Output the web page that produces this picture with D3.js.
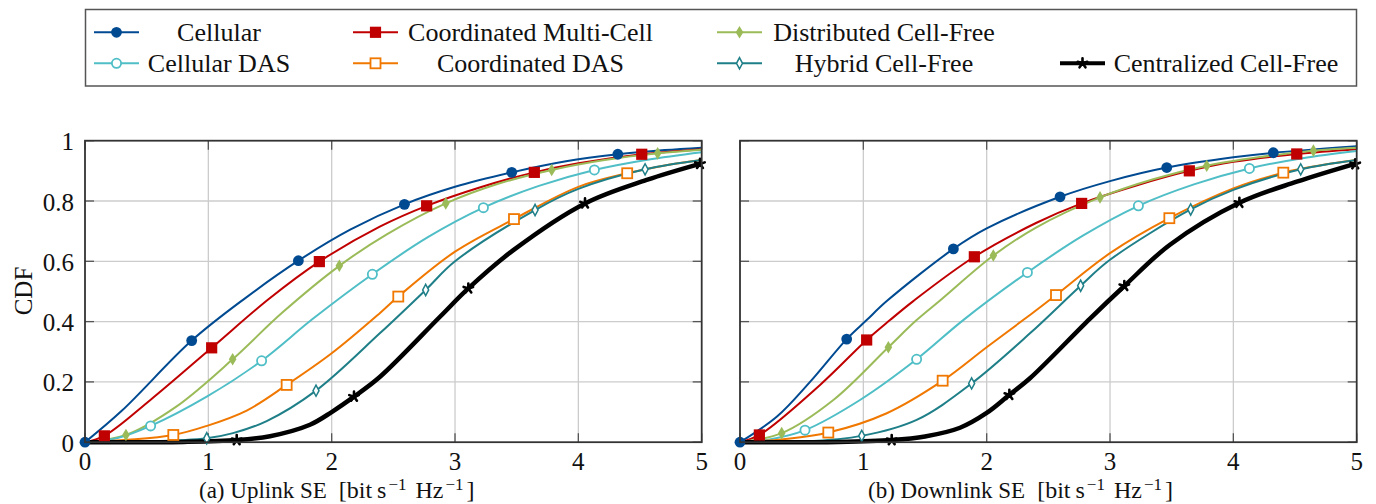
<!DOCTYPE html>
<html><head><meta charset="utf-8">
<script src="https://cdn.jsdelivr.net/npm/d3@7"></script>
<style>body{margin:0;background:#fff}svg{display:block}</style>
</head><body><svg id="c" width="1376" height="504"></svg>
<script>
// ---------- data ----------
const seriesNames = ["Cellular","Coordinated Multi-Cell","Distributed Cell-Free","Cellular DAS","Coordinated DAS","Hybrid Cell-Free","Centralized Cell-Free"];
const xTicks = [0,1,2,3,4,5];
const xTickLabels = ["0","1","2","3","4","5"];
const yTicks = [0,0.2,0.4,0.6,0.8,1];
const yTickLabels = ["0","0.2","0.4","0.6","0.8","1"];
const captions = ["(a) Uplink SE", "(b) Downlink SE"];

// Uplink curves
const ulCellular = [[0,0],[0.3,0.105],[0.865,0.337],[1.3,0.478],[1.73,0.602],[2.15,0.705],[2.59,0.789],[3.0,0.847],[3.46,0.895],[3.9,0.932],[4.32,0.955],[4.7,0.969],[5,0.977]];
const ulCellularMarks = [[0,0],[0.865,0.337],[1.73,0.602],[2.59,0.789],[3.46,0.895],[4.32,0.955]];
const ulCoordMC = [[0,0],[0.157,0.021],[0.53,0.14],[1.027,0.313],[1.49,0.475],[1.9,0.599],[2.39,0.715],[2.77,0.784],[3.2,0.845],[3.643,0.895],[4.0,0.925],[4.514,0.955],[5,0.972]];
const ulCoordMCMarks = [[0.157,0.021],[1.027,0.313],[1.9,0.599],[2.77,0.784],[3.643,0.895],[4.514,0.955]];
const ulDistCF = [[0,0],[0.332,0.024],[0.74,0.118],[1.197,0.275],[1.6,0.43],[2.062,0.585],[2.45,0.69],[2.925,0.792],[3.35,0.857],[3.784,0.903],[4.2,0.935],[4.643,0.958],[5,0.970]];
const ulDistCFMarks = [[0.332,0.024],[1.197,0.275],[2.062,0.585],[2.925,0.792],[3.784,0.903],[4.643,0.958]];
const ulCellDAS = [[0,0],[0.257,0.013],[0.532,0.054],[0.987,0.151],[1.432,0.27],[1.85,0.41],[2.33,0.557],[2.78,0.68],[3.23,0.778],[3.68,0.85],[4.13,0.903],[4.56,0.937],[5,0.962]];
const ulCellDASMarks = [[0.532,0.054],[1.432,0.27],[2.33,0.557],[3.23,0.778],[4.13,0.903]];
const ulCoordDAS = [[0,0],[0.35,0.008],[0.716,0.024],[0.987,0.054],[1.311,0.105],[1.635,0.19],[2.0,0.295],[2.39,0.428],[2.54,0.483],[3.0,0.632],[3.478,0.74],[4.0,0.847],[4.396,0.892],[4.7,0.918],[5,0.936]];
const ulCoordDASMarks = [[0.716,0.024],[1.635,0.19],[2.54,0.483],[3.478,0.74],[4.396,0.892]];
const ulHybridCF = [[0,0],[0.5,0.002],[0.987,0.013],[1.2,0.03],[1.473,0.07],[1.873,0.171],[2.39,0.361],[2.762,0.505],[3.0,0.6],[3.649,0.77],[4.0,0.84],[4.541,0.905],[5,0.936]];
const ulHybridCFMarks = [[0.987,0.013],[1.873,0.171],[2.762,0.505],[3.649,0.77],[4.541,0.905]];
const ulCentralCF = [[0,0],[0.8,0.001],[1.23,0.007],[1.5,0.02],[1.824,0.058],[2.0,0.1],[2.181,0.151],[2.392,0.217],[2.878,0.416],[3.108,0.51],[3.473,0.637],[4.054,0.792],[4.554,0.87],[5,0.925]];
const ulCentralCFMarks = [[1.23,0.007],[2.181,0.151],[3.108,0.51],[4.054,0.792],[4.986,0.923]];

// Downlink curves
const dlCellular = [[0,0],[0.3,0.085],[0.568,0.2],[0.865,0.342],[1.027,0.405],[1.19,0.468],[1.73,0.641],[2.0,0.709],[2.595,0.814],[3.0,0.866],[3.46,0.911],[4.0,0.945],[4.324,0.96],[5,0.982]];
const dlCellularMarks = [[0,0],[0.865,0.342],[1.73,0.641],[2.595,0.814],[3.46,0.911],[4.324,0.96]];
const dlCoordMC = [[0,0],[0.157,0.024],[0.649,0.19],[1.027,0.339],[1.216,0.405],[1.405,0.468],[1.9,0.615],[2.4,0.727],[2.77,0.792],[3.2,0.85],[3.643,0.9],[4.0,0.93],[4.514,0.956],[5,0.972]];
const dlCoordMCMarks = [[0.157,0.024],[1.027,0.339],[1.9,0.615],[2.77,0.792],[3.643,0.9],[4.514,0.956]];
const dlDistCF = [[0,0],[0.338,0.03],[0.757,0.14],[1.203,0.315],[1.432,0.405],[1.622,0.47],[2.054,0.619],[2.4,0.712],[2.919,0.812],[3.35,0.872],[3.784,0.917],[4.2,0.945],[4.649,0.967],[5,0.977]];
const dlDistCFMarks = [[0.338,0.03],[1.203,0.315],[2.054,0.619],[2.919,0.812],[3.784,0.917],[4.649,0.967]];
const dlCellDAS = [[0,0],[0.25,0.01],[0.527,0.04],[0.973,0.14],[1.432,0.275],[1.81,0.405],[2.33,0.563],[2.78,0.685],[3.23,0.784],[3.68,0.855],[4.13,0.908],[4.56,0.942],[5,0.966]];
const dlCellDASMarks = [[0.527,0.04],[1.432,0.275],[2.33,0.563],[3.23,0.784],[4.13,0.908]];
const dlCoordDAS = [[0,0],[0.35,0.01],[0.716,0.032],[1.19,0.096],[1.643,0.204],[2.0,0.315],[2.351,0.422],[2.562,0.488],[3.0,0.627],[3.481,0.743],[4.0,0.842],[4.405,0.894],[4.7,0.918],[5,0.936]];
const dlCoordDASMarks = [[0.716,0.032],[1.643,0.204],[2.562,0.488],[3.481,0.743],[4.405,0.894]];
const dlHybridCF = [[0,0],[0.5,0.002],[0.987,0.021],[1.432,0.074],[1.878,0.195],[2.351,0.361],[2.762,0.519],[3.0,0.605],[3.654,0.772],[4.0,0.837],[4.546,0.905],[5,0.936]];
const dlHybridCFMarks = [[0.987,0.021],[1.878,0.195],[2.762,0.519],[3.654,0.772],[4.546,0.905]];
const dlCentralCF = [[0,0],[0.8,0.001],[1.23,0.007],[1.5,0.019],[1.784,0.048],[2.0,0.097],[2.184,0.157],[2.351,0.212],[2.838,0.41],[3.116,0.518],[3.486,0.655],[4.049,0.794],[4.514,0.864],[5,0.925]];
const dlCentralCFMarks = [[1.23,0.007],[2.184,0.157],[3.116,0.518],[4.049,0.794],[4.988,0.922]];

// ---------- styles ----------
const colors = ["#004a91","#c00000","#9bbb59","#4fbec6","#f07800","#1f7f88","#000000"];
const markerTypes = ["circleFilled","squareFilled","diamondFilled","circleOpen","squareOpen","diamondOpen","star"];
const lineWidths = [2,2,2,2,2,2,4.5];

const panels = [
  {x0:85, x1:701.7, curves:[ulCellular,ulCoordMC,ulDistCF,ulCellDAS,ulCoordDAS,ulHybridCF,ulCentralCF],
   marks:[ulCellularMarks,ulCoordMCMarks,ulDistCFMarks,ulCellDASMarks,ulCoordDASMarks,ulHybridCFMarks,ulCentralCFMarks],
   yLabels:true, capX:199},
  {x0:740, x1:1356.7, curves:[dlCellular,dlCoordMC,dlDistCF,dlCellDAS,dlCoordDAS,dlHybridCF,dlCentralCF],
   marks:[dlCellularMarks,dlCoordMCMarks,dlDistCFMarks,dlCellDASMarks,dlCoordDASMarks,dlHybridCFMarks,dlCentralCFMarks],
   yLabels:false, capX:868}
];
const yTop = 140.7, yBot = 442.2;
const FONT = "'Liberation Serif','Times New Roman',serif";

const svg = d3.select("#c");

function drawMarker(g, type, color, x, y) {
  if (type === "circleFilled") {
    g.append("circle").attr("cx",x).attr("cy",y).attr("r",5.4).attr("fill",color);
  } else if (type === "circleOpen") {
    g.append("circle").attr("cx",x).attr("cy",y).attr("r",4.6).attr("fill","#fff").attr("stroke",color).attr("stroke-width",1.8);
  } else if (type === "squareFilled") {
    g.append("rect").attr("x",x-5.6).attr("y",y-5.6).attr("width",11.2).attr("height",11.2).attr("fill",color);
  } else if (type === "squareOpen") {
    g.append("rect").attr("x",x-5).attr("y",y-5).attr("width",10).attr("height",10).attr("fill","#fff").attr("stroke",color).attr("stroke-width",1.8);
  } else if (type === "diamondFilled") {
    g.append("path").attr("d",`M${x},${y-6.3}L${x+3.8},${y}L${x},${y+6.3}L${x-3.8},${y}Z`).attr("fill",color);
  } else if (type === "diamondOpen") {
    g.append("path").attr("d",`M${x},${y-5.6}L${x+3},${y}L${x},${y+5.6}L${x-3},${y}Z`).attr("fill","#fff").attr("stroke",color).attr("stroke-width",1.5);
  } else if (type === "star") {
    let d = "";
    for (let k = 0; k < 5; k++) {
      const a = -Math.PI/2 + k*2*Math.PI/5;
      d += `M${x},${y}L${x+5*Math.cos(a)},${y+5*Math.sin(a)}`;
    }
    g.append("path").attr("d",d).attr("stroke",color).attr("stroke-width",2.6).attr("stroke-linecap","round").attr("fill","none");
  }
}

panels.forEach((p, pi) => {
  const x = d3.scaleLinear().domain([0,5]).range([p.x0, p.x1]);
  const y = d3.scaleLinear().domain([0,1]).range([yBot, yTop]);
  const g = svg.append("g");

  // grid
  g.append("g").selectAll("line").data(xTicks.slice(1,-1)).join("line")
    .attr("x1",d=>x(d)).attr("x2",d=>x(d)).attr("y1",yTop).attr("y2",yBot)
    .attr("stroke","#cccccc").attr("stroke-width",1.3);
  g.append("g").selectAll("line").data(yTicks.slice(1,-1)).join("line")
    .attr("y1",d=>y(d)).attr("y2",d=>y(d)).attr("x1",p.x0).attr("x2",p.x1)
    .attr("stroke","#cccccc").attr("stroke-width",1.3);

  // ticks (inside, all sides)
  const tl = 9;
  const tk = g.append("g").attr("stroke","#555").attr("stroke-width",1.3);
  xTicks.forEach(t => {
    tk.append("line").attr("x1",x(t)).attr("x2",x(t)).attr("y1",yBot).attr("y2",yBot-tl);
    tk.append("line").attr("x1",x(t)).attr("x2",x(t)).attr("y1",yTop).attr("y2",yTop+tl);
  });
  yTicks.forEach(t => {
    tk.append("line").attr("y1",y(t)).attr("y2",y(t)).attr("x1",p.x0).attr("x2",p.x0+tl);
    tk.append("line").attr("y1",y(t)).attr("y2",y(t)).attr("x1",p.x1).attr("x2",p.x1-tl);
  });

  // curves
  const line = d3.line().x(d=>x(d[0])).y(d=>y(d[1])).curve(d3.curveCatmullRom.alpha(0.5));
  p.curves.forEach((c, i) => {
    g.append("path").datum(c).attr("d",line).attr("fill","none")
      .attr("stroke",colors[i]).attr("stroke-width",lineWidths[i]).attr("stroke-linejoin","round");
  });
  // markers
  p.marks.forEach((m, i) => {
    const mg = g.append("g");
    m.forEach(d => drawMarker(mg, markerTypes[i], colors[i], x(d[0]), y(d[1])));
  });

  // frame
  g.append("rect").attr("x",p.x0).attr("y",yTop).attr("width",p.x1-p.x0).attr("height",yBot-yTop)
    .attr("fill","none").attr("stroke","#333").attr("stroke-width",1.8);

  // tick labels
  g.append("g").selectAll("text").data(xTicks).join("text")
    .attr("x",d=>x(d)).attr("y",470).attr("text-anchor","middle")
    .attr("font-family",FONT).attr("font-size",25).attr("fill","#111")
    .text((d,i)=>xTickLabels[i]);
  if (p.yLabels) {
    g.append("g").selectAll("text").data(yTicks).join("text")
      .attr("x",74).attr("y",d=>y(d)+9.5).attr("text-anchor","end")
      .attr("font-family",FONT).attr("font-size",25).attr("fill","#111")
      .text((d,i)=>yTickLabels[i]);
  }

  // caption
  const cap = g.append("text").attr("x",p.capX).attr("y",498)
    .attr("font-family",FONT).attr("font-size",23).attr("fill","#111");
  cap.append("tspan").text(captions[pi]);
  cap.append("tspan").attr("dx",12).attr("font-size",24).text("[bit");
  cap.append("tspan").attr("dx",5).attr("font-size",24).text("s");
  cap.append("tspan").attr("dy",-8).attr("dx",2).attr("font-size",17).text("\u22121");
  cap.append("tspan").attr("dy",8).attr("dx",9).attr("font-size",24).text("Hz");
  cap.append("tspan").attr("dy",-8).attr("dx",2).attr("font-size",17).text("\u22121");
  cap.append("tspan").attr("dy",8).attr("dx",3).attr("font-size",24).text("]");
});

// y axis title
svg.append("text").attr("transform","translate(31.5,291) rotate(-90)")
  .attr("text-anchor","middle").attr("font-family",FONT).attr("font-size",25).attr("fill","#111")
  .text("CDF");

// legend
const lg = svg.append("g");
lg.append("rect").attr("x",85.5).attr("y",9.5).attr("width",1271).attr("height",76.5)
  .attr("fill","#fff").attr("stroke","#555").attr("stroke-width",1.5);
const legCols = [{lx:94, tx:219},{lx:353, tx:530.5},{lx:717, tx:884},{lx:1060, tx:1226}];
const legRows = [32.3, 63.3];
const legendSlots = [[0,0],[0,1],[0,2],[1,0],[1,1],[1,2],[1,3]];
seriesNames.forEach((name, i) => {
  const [r, c] = legendSlots[i];
  const col = legCols[c], yy = legRows[r];
  const len = 45;
  lg.append("line").attr("x1",col.lx).attr("x2",col.lx+len).attr("y1",yy).attr("y2",yy)
    .attr("stroke",colors[i]).attr("stroke-width",i===6?4:2);
  drawMarker(lg, markerTypes[i], colors[i], col.lx+len/2, yy);
  lg.append("text").attr("x",col.tx).attr("y",yy+8.3).attr("text-anchor","middle")
    .attr("font-family",FONT).attr("font-size",26).attr("fill","#111").text(name);
});
</script></body></html>
